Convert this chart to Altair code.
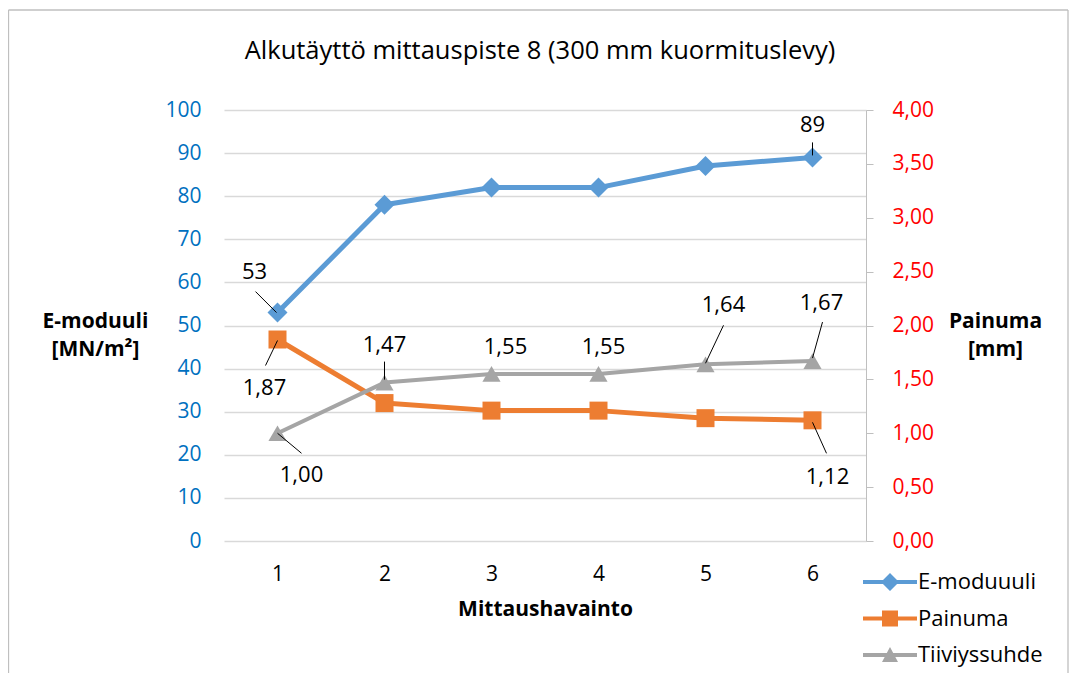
import altair as alt
import pandas as pd

# ---------------- data ----------------
obs = [1, 2, 3, 4, 5, 6]
e_moduuli = [53, 78, 82, 82, 87, 89]
painuma = [1.87, 1.28, 1.21, 1.21, 1.14, 1.12]
tiiviyssuhde = [1.00, 1.47, 1.55, 1.55, 1.64, 1.67]
series_names = ["E-moduuuli", "Painuma", "Tiiviyssuhde"]
left_ticks = [0, 10, 20, 30, 40, 50, 60, 70, 80, 90, 100]
right_ticks = [0.0, 0.5, 1.0, 1.5, 2.0, 2.5, 3.0, 3.5, 4.0]

title_text = "Alkutäyttö mittauspiste 8 (300 mm kuormituslevy)"
x_title = "Mittaushavainto"
left_title = ["E-moduuli", "[MN/m²]"]
right_title = ["Painuma", "[mm]"]

df = pd.DataFrame({"obs": obs, "E": e_moduuli, "P": painuma, "T": tiiviyssuhde})
legend_df = pd.DataFrame({"s": series_names})
dummy = pd.DataFrame({"a": [0]})

# ---------------- styles ----------------
FONT = "Open Sans"
BLUE, ORANGE, GRAY = "#5B9BD5", "#ED7D31", "#A5A5A5"
FRAME = "#BFBFBF"

# data-label placement (series, obs, dx, dy, leader start offset, leader end offset)
LABELS = [
    ("E", 1, -23, -41, (-22, -21), (-1, 0)),
    ("E", 6, 0, -32, (0, -15), (0, -2)),
    ("P", 1, -13, 48, (-12, 26), (0, 1)),
    ("P", 6, 15, 57, (14, 33), (0, 2)),
    ("T", 1, 24, 42, (24, 20), (0, 0)),
    ("T", 2, 0, -38, (0, -21), (0, -3)),
    ("T", 3, 14, -27, None, None),
    ("T", 4, 5, -27, None, None),
    ("T", 5, 18, -59, (18, -39), (0, -1)),
    ("T", 6, 9, -58, (10, -39), (0, -3)),
]

x_axis = alt.Axis(title=x_title, labelAngle=0, domain=False, ticks=False, tickSize=0,
                  grid=False, labelPadding=22, labelFont=FONT, labelFontSize=21,
                  labelColor="#000000", titleFont=FONT, titleFontSize=21,
                  titleFontWeight="bold", titleColor="#000000", titlePadding=14)
x_scale = alt.Scale(type="point", padding=0.5, domain=obs)

left_axis = alt.Axis(orient="left", values=left_ticks, title=left_title, titleAngle=0,
                     titleAlign="center", titleBaseline="alphabetic", titleX=-129, titleY=217,
                     titleFont=FONT, titleFontSize=21, titleFontWeight="bold",
                     titleColor="#000000", titleLineHeight=28,
                     labelFont=FONT, labelFontSize=21, labelColor="#0070C0", labelPadding=23,
                     ticks=False, tickSize=0, domain=False, grid=True,
                     gridColor="#D9D9D9", gridWidth=1.5)
left_scale = alt.Scale(domain=[0, 100], nice=False)

right_axis = alt.Axis(orient="right", values=right_ticks,
                      labelExpr="replace(format(datum.value, '.2f'), '.', ',')",
                      title=right_title, titleAngle=0, titleAlign="center",
                      titleBaseline="alphabetic", titleX=129, titleY=217,
                      titleFont=FONT, titleFontSize=21, titleFontWeight="bold",
                      titleColor="#000000", titleLineHeight=28,
                      labelFont=FONT, labelFontSize=21, labelColor="#FF0000", labelPadding=19,
                      ticks=True, tickSize=7, tickColor=FRAME, tickWidth=1,
                      domain=True, domainColor=FRAME, domainWidth=1, grid=False)
right_scale = alt.Scale(domain=[0, 4], nice=False)


def X():
    return alt.X("obs:O", scale=x_scale, axis=x_axis)


def Y(field):
    if field == "E":
        return alt.Y("E:Q", scale=left_scale, axis=left_axis)
    return alt.Y(f"{field}:Q", scale=right_scale, axis=right_axis)


base = alt.Chart(df)

COLORS = {"E": BLUE, "P": ORANGE, "T": GRAY}
WIDTHS = {"E": 5, "P": 5, "T": 4}
SHAPES = {"E": ("diamond", 400), "P": ("square", 324), "T": ("triangle-up", 330)}


def series_layers(field):
    line = base.mark_line(color=COLORS[field], strokeWidth=WIDTHS[field],
                          strokeCap="round", strokeJoin="round").encode(x=X(), y=Y(field))
    shp, sz = SHAPES[field]
    pts = base.mark_point(shape=shp, size=sz, filled=True, opacity=1,
                          color=COLORS[field]).encode(x=X(), y=Y(field))
    return [line, pts]


def label_layers(field):
    out = []
    for (f, k, dx, dy, l1, l2) in LABELS:
        if f != field:
            continue
        if field == "E":
            expr = f"format(datum.{field}, 'd')"
        else:
            expr = f"replace(format(datum.{field}, '.2f'), '.', ',')"
        sub = base.transform_filter(f"datum.obs == {k}")
        txt = sub.mark_text(dx=dx, dy=dy, font=FONT, fontSize=22, color="#000000",
                            align="center", baseline="middle").transform_calculate(
            lbl=expr).encode(x=X(), y=Y(field), text="lbl:N")
        out.append(txt)
        if l1 is not None:
            rl = sub.mark_rule(color="#000000", strokeWidth=1,
                               xOffset=l1[0], yOffset=l1[1],
                               x2Offset=l2[0], y2Offset=l2[1]).encode(
                x=X(), y=Y(field), x2=alt.X2("obs:O"), y2=alt.Y2(f"{field}:Q"))
            out.append(rl)
    return out


left_layer = alt.layer(*series_layers("E"), *label_layers("E"))
right_layer = alt.layer(*series_layers("P"), *series_layers("T"),
                        *label_layers("P"), *label_layers("T"))

# legend symbols: line segment + marker
path_e = "M-27,-2L27,-2L27,2L-27,2Z M0,-9L9,0L0,9L-9,0Z"
path_p = "M-27,-2L27,-2L27,2L-27,2Z M-8,-8L8,-8L8,8L-8,8Z"
path_t = "M-27,-2L27,-2L27,2L-27,2Z M0,-8L8,7L-8,7Z"

leg = alt.Legend(orient="none", legendX=655, legendY=461, title=None, padding=0,
                 symbolSize=4, symbolStrokeWidth=0, symbolOffset=0,
                 labelFont=FONT, labelFontSize=22, labelColor="#000000",
                 labelOffset=17, rowPadding=14.5, labelLimit=400)
legend_layer = alt.Chart(legend_df).mark_point(filled=True, opacity=1).encode(
    color=alt.Color("s:N", scale=alt.Scale(domain=series_names, range=[BLUE, ORANGE, GRAY]),
                    legend=leg),
    shape=alt.Shape("s:N", scale=alt.Scale(domain=series_names, range=[path_e, path_p, path_t]),
                    legend=leg),
).transform_filter("false")

# outer chart border (left, top, right)
fb = alt.Chart(dummy)
frame_l = fb.mark_rule(color=FRAME, strokeWidth=1.3).encode(
    x=alt.value(-215.5), y=alt.value(-100), y2=alt.value(700))
frame_t = fb.mark_rule(color=FRAME, strokeWidth=1.3).encode(
    x=alt.value(-215.5), x2=alt.value(844), y=alt.value(-100))
frame_r = fb.mark_rule(color=FRAME, strokeWidth=1.3).encode(
    x=alt.value(844), y=alt.value(-100), y2=alt.value(700))

chart = alt.layer(left_layer, right_layer, legend_layer, frame_l, frame_t, frame_r).resolve_scale(
    y="independent"
).properties(
    width=642,
    height=431,
    title=alt.TitleParams(title_text, font=FONT, fontSize=25.5, fontWeight="normal",
                          color="#000000", anchor="middle", offset=-55, dx=-5),
    autosize=alt.AutoSizeParams(type="none"),
    padding={"left": 216, "top": 102, "right": 203, "bottom": 132},
    background="white",
).configure_view(stroke=None)

chart.save("out.html", embed_options={"renderer": "svg", "actions": False})
